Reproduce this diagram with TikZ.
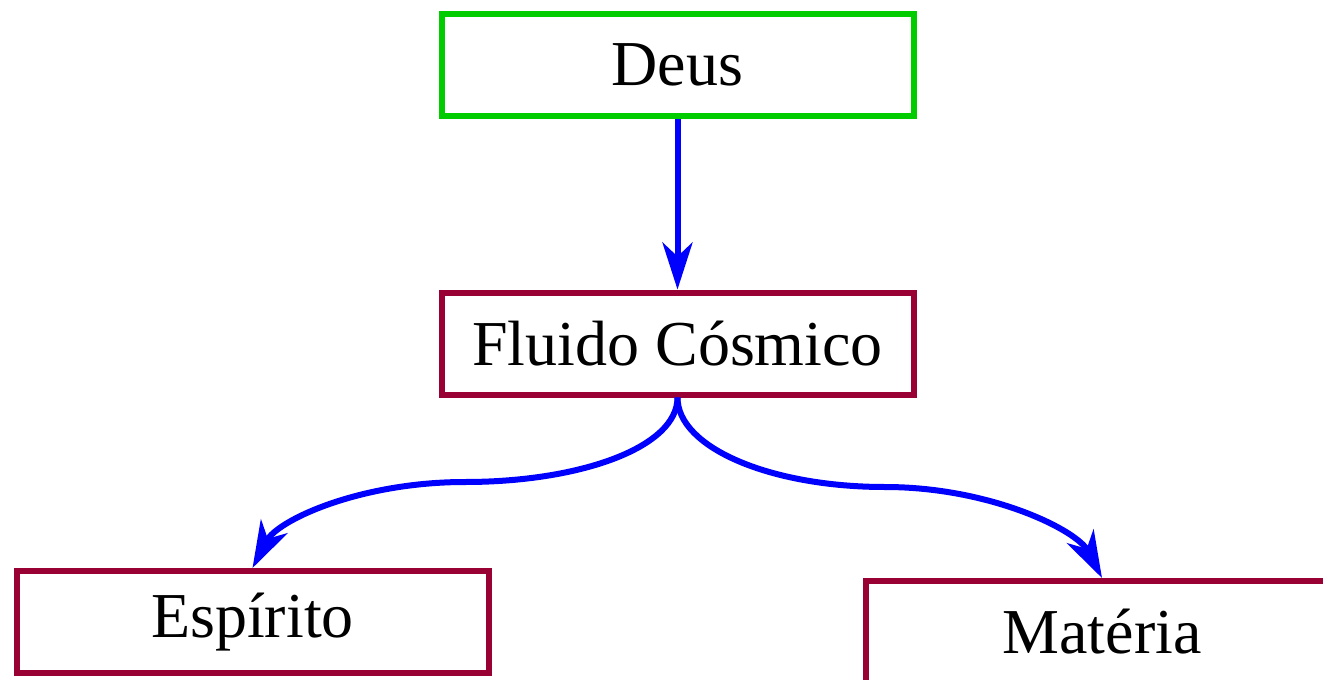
\documentclass[tikz,border=0pt]{standalone}
\usepackage{fontspec}
\setmainfont{Liberation Serif}
\usetikzlibrary{arrows.meta}
\definecolor{boxgreen}{RGB}{0,204,0}
\definecolor{boxred}{RGB}{153,0,51}
\definecolor{arrblue}{RGB}{0,0,255}
\begin{document}
\begin{tikzpicture}[x=1pt,y=-1pt,
  box/.style={draw, line width=6pt, minimum width=472pt, minimum height=102pt, inner sep=0pt,
    font=\fontsize{64}{76}\selectfont},
  conn/.style={draw=arrblue, line width=6pt,
    -{Stealth[length=47pt,width=30pt,inset=14pt]}}]
\useasboundingbox (0,0) rectangle (1323,680);
\node[box, draw=boxgreen] (deus) at (677.5,65) {Deus};
\node[box, draw=boxred] (fluido) at (677.5,343.5) {Fluido Cósmico};
\node[box, draw=boxred] (esp) at (252.5,622) {Espírito};
\node[box, draw=boxred] (mat) at (1102,632) {Matéria};
\coordinate (ml) at (465,482);
\coordinate (mr) at (885,487);
\draw[conn] (deus) -- (fluido);
\draw[conn] (fluido.south) .. controls +(0,50) and +(115,0) .. (ml)
  .. controls +(-105,0) and +(25,-48) .. (esp.north);
\draw[conn] (fluido.south) .. controls +(0,50) and +(-115,0) .. (mr)
  .. controls +(105,0) and +(-25,-48) .. (mat.north);
\end{tikzpicture}
\end{document}
